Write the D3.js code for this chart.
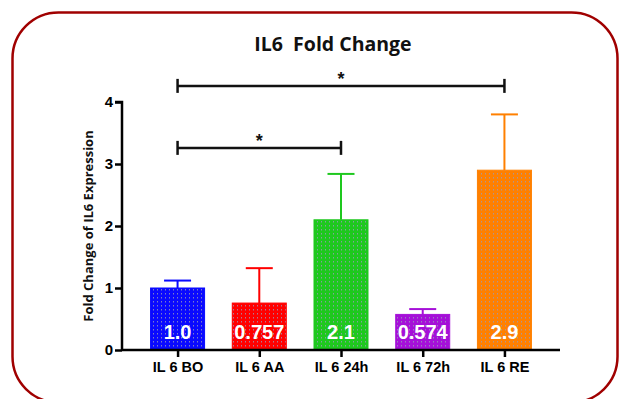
<!DOCTYPE html>
<html>
<head>
<meta charset="utf-8">
<script src="https://cdnjs.cloudflare.com/ajax/libs/d3/7.8.5/d3.min.js"></script>
<style>
html,body{margin:0;padding:0;background:#fff;}
svg{display:block;}
</style>
</head>
<body>
<svg id="chart" width="622" height="399"></svg>
<script>
const categories = ["IL 6 BO", "IL 6 AA", "IL 6 24h", "IL 6 72h", "IL 6 RE"];
const values = [1.0, 0.757, 2.1, 0.574, 2.9];
const errorTops = [1.12, 1.32, 2.84, 0.66, 3.8];
const valueLabels = ["1.0", "0.757", "2.1", "0.574", "2.9"];
const colors = ["#0a0aff", "#ff0000", "#1ec81e", "#a510d8", "#ff8000"];
const yTicks = [0, 1, 2, 3, 4];
const sigPairs = [
  {from: "IL 6 BO", to: "IL 6 RE", level: 4.26, label: "*"},
  {from: "IL 6 BO", to: "IL 6 24h", level: 3.26, label: "*"}
];

const svg = d3.select("#chart");
const font = "'Open Sans', 'Liberation Sans', Arial, sans-serif";
const afont = "'Liberation Sans', Arial, sans-serif";

// border
svg.append("rect")
  .attr("x", 12.5).attr("y", 12.5).attr("width", 605).attr("height", 390)
  .attr("rx", 46).attr("ry", 46)
  .attr("fill", "#fff").attr("stroke", "#a00000").attr("stroke-width", 2.5);

// patterns
const defs = svg.append("defs");
colors.forEach((c, i) => {
  const p = defs.append("pattern").attr("id", "pat" + i)
    .attr("patternUnits", "userSpaceOnUse").attr("width", 4).attr("height", 4);
  p.append("rect").attr("width", 4).attr("height", 4).attr("fill", c);
  p.append("rect").attr("x", 1).attr("y", 1).attr("width", 1).attr("height", 1.5)
    .attr("fill", "#9a9ab8").attr("opacity", 0.8);
});

const x = d3.scalePoint().domain(categories).range([122, 560]).padding(0.68);
const y = d3.scaleLinear().domain([0, 4]).range([350, 102]);
const barW = 54;

// title
svg.append("text").attr("x", 333).attr("y", 51).attr("text-anchor", "middle")
  .attr("font-family", font).attr("font-weight", "bold").attr("font-size", 19.5)
  .style("white-space", "pre").attr("fill", "#111").text("IL6  Fold Change");

// bars
const g = svg.append("g");
categories.forEach((c, i) => {
  const cx = x(c);
  g.append("line").attr("x1", cx).attr("x2", cx).attr("y1", y(values[i])).attr("y2", y(errorTops[i]))
    .attr("stroke", colors[i]).attr("stroke-width", 2);
  g.append("line").attr("x1", cx - 13.5).attr("x2", cx + 13.5).attr("y1", y(errorTops[i])).attr("y2", y(errorTops[i]))
    .attr("stroke", colors[i]).attr("stroke-width", 2);
  g.append("rect").attr("x", cx - barW / 2).attr("y", y(values[i]))
    .attr("width", barW).attr("height", y(0) - y(values[i]))
    .attr("fill", "url(#pat" + i + ")").attr("stroke", colors[i]).attr("stroke-width", 1);
  g.append("text").attr("x", cx).attr("y", 339).attr("text-anchor", "middle")
    .attr("font-family", afont).attr("font-weight", "bold")
    .attr("font-size", 20).attr("fill", "#fff").text(valueLabels[i]);
});

// axes
const yAxis = d3.axisLeft(y).tickValues(yTicks).tickFormat(d3.format("d")).tickSize(7).tickPadding(2);
const ya = svg.append("g").attr("transform", "translate(122,0)").call(yAxis);
ya.select(".domain").attr("stroke", "#000").attr("stroke-width", 2.5).attr("d", "M-7,102H0V350");
ya.selectAll(".tick line").attr("stroke", "#000").attr("stroke-width", 2.5);
ya.selectAll(".tick text").attr("font-family", afont)
  .attr("font-weight", "bold").attr("font-size", 15).attr("fill", "#000");

const xAxis = d3.axisBottom(x).tickSize(7).tickPadding(5);
const xa = svg.append("g").attr("transform", "translate(0,350)").call(xAxis);
xa.select(".domain").attr("stroke", "#000").attr("stroke-width", 2.5).attr("d", "M122,0H560");
xa.selectAll(".tick line").attr("stroke", "#000").attr("stroke-width", 2.5);
xa.selectAll(".tick text").attr("font-family", afont)
  .attr("font-weight", "bold").attr("font-size", 14.5).attr("fill", "#000");

// y label
svg.append("text").attr("transform", "translate(93,226) rotate(-90)").attr("text-anchor", "middle")
  .attr("font-family", font).attr("font-weight", "bold").attr("font-size", 13)
  .attr("fill", "#111").text("Fold Change of IL6 Expression");

// significance brackets
sigPairs.forEach(s => {
  const x1 = x(s.from), x2 = x(s.to), yy = y(s.level);
  svg.append("line").attr("x1", x1).attr("x2", x2).attr("y1", yy).attr("y2", yy)
    .attr("stroke", "#111").attr("stroke-width", 2.5);
  [x1, x2].forEach(xx => svg.append("line").attr("x1", xx).attr("x2", xx)
    .attr("y1", yy - 7).attr("y2", yy + 7).attr("stroke", "#111").attr("stroke-width", 2.5));
  svg.append("text").attr("x", (x1 + x2) / 2).attr("y", yy - 1).attr("text-anchor", "middle")
    .attr("font-family", afont).attr("font-weight", "bold")
    .attr("font-size", 18).attr("fill", "#111").text(s.label);
});
</script>
</body>
</html>
